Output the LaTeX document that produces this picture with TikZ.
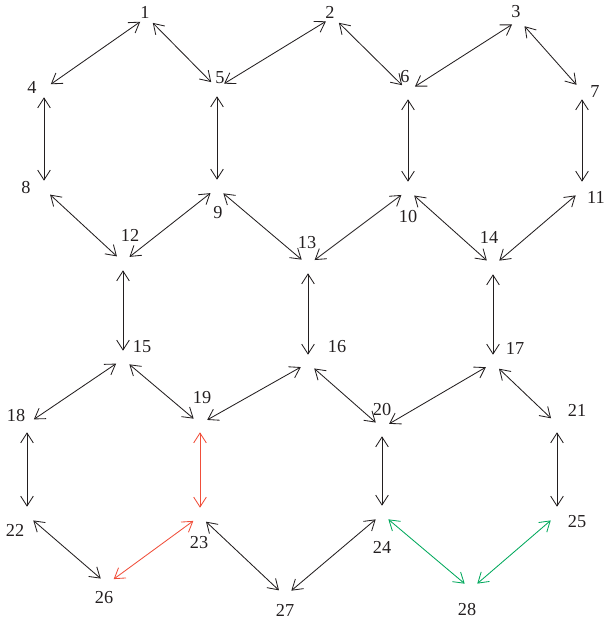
\documentclass[tikz,border=0pt]{standalone}
\usepackage{fontspec}
\setmainfont{Liberation Serif}
\usetikzlibrary{arrows.meta}

\definecolor{inkgray}{RGB}{35,31,32}
\definecolor{pathred}{RGB}{240,78,58}
\definecolor{pathgreen}{RGB}{0,168,92}

\begin{document}
\begin{tikzpicture}[
  x=0.025cm, y=-0.025cm,
  font=\fontsize{13}{15}\selectfont,
  vtx/.style={circle, inner sep=0pt, minimum size=0.4cm},
  num/.style={inner sep=0pt, text=inkgray},
  link/.style={{Straight Barb[length=7pt,width=9pt]}-{Straight Barb[length=7pt,width=9pt]},
               line width=0.6pt, draw=inkgray},
  redlink/.style={link, draw=pathred},
  greenlink/.style={link, draw=pathgreen},
]
  \useasboundingbox (0,0) rectangle (606,625);

  %% Vertices and their numbers
  \node[vtx] (v1)  at (147,17)  {}; \node[num] (n1)  at (145,12)  {1};
  \node[vtx] (v2)  at (333,17)  {}; \node[num] (n2)  at (330,12)  {2};
  \node[vtx] (v3)  at (519,20)  {}; \node[num] (n3)  at (516,12)  {3};
  \node[vtx] (v4)  at (44,89)   {}; \node[num] (n4)  at (32,87)   {4};
  \node[vtx] (v5)  at (217,88)  {}; \node[num] (n5)  at (220,78)  {5};
  \node[vtx] (v6)  at (408,91)  {}; \node[num] (n6)  at (405,77)  {6};
  \node[vtx] (v7)  at (582,91)  {}; \node[num] (n7)  at (595,92)  {7};
  \node[vtx] (v8)  at (44,189)  {}; \node[num] (n8)  at (26,188)  {8};
  \node[vtx] (v9)  at (217,188) {}; \node[num] (n9)  at (218,213) {9};
  \node[vtx] (v10) at (408,190) {}; \node[num] (n10) at (408,217) {10};
  \node[vtx] (v11) at (582,190) {}; \node[num] (n11) at (596,197) {11};
  \node[vtx] (v12) at (123,262) {}; \node[num] (n12) at (130,235) {12};
  \node[vtx] (v13) at (308,265) {}; \node[num] (n13) at (307,243) {13};
  \node[vtx] (v14) at (493,266) {}; \node[num] (n14) at (489,237) {14};
  \node[vtx] (v15) at (123,359) {}; \node[num] (n15) at (142,347) {15};
  \node[vtx] (v16) at (308,363) {}; \node[num] (n16) at (337,347) {16};
  \node[vtx] (v17) at (493,363) {}; \node[num] (n17) at (515,348) {17};
  \node[vtx] (v18) at (27,424)  {}; \node[num] (n18) at (16,416)  {18};
  \node[vtx] (v19) at (200,424) {}; \node[num] (n19) at (202,398) {19};
  \node[vtx] (v20) at (382,428) {}; \node[num] (n20) at (382,410) {20};
  \node[vtx] (v21) at (557,424) {}; \node[num] (n21) at (577,410) {21};
  \node[vtx] (v22) at (27,515)  {}; \node[num] (n22) at (15,530)  {22};
  \node[vtx] (v23) at (200,516) {}; \node[num] (n23) at (199,543) {23};
  \node[vtx] (v24) at (382,514) {}; \node[num] (n24) at (382,547) {24};
  \node[vtx] (v25) at (557,515) {}; \node[num] (n25) at (577,522) {25};
  \node[vtx] (v26) at (107,584) {}; \node[num] (n26) at (104,598) {26};
  \node[vtx] (v27) at (285,596) {}; \node[num] (n27) at (285,610) {27};
  \node[vtx] (v28) at (471,589) {}; \node[num] (n28) at (467,610) {28};

  %% Links of the lattice
  \draw[link] (v1) -- (v4);   \draw[link] (v1) -- (v5);
  \draw[link] (v2) -- (v5);   \draw[link] (v2) -- (v6);
  \draw[link] (v3) -- (v6);   \draw[link] (v3) -- (v7);
  \draw[link] (v4) -- (v8);   \draw[link] (v5) -- (v9);
  \draw[link] (v6) -- (v10);  \draw[link] (v7) -- (v11);
  \draw[link] (v8) -- (v12);  \draw[link] (v9) -- (v12);
  \draw[link] (v9) -- (v13);  \draw[link] (v10) -- (v13);
  \draw[link] (v10) -- (v14); \draw[link] (v11) -- (v14);
  \draw[link] (v12) -- (v15); \draw[link] (v13) -- (v16);
  \draw[link] (v14) -- (v17);
  \draw[link] (v15) -- (v18); \draw[link] (v15) -- (v19);
  \draw[link] (v16) -- (v19); \draw[link] (v16) -- (v20);
  \draw[link] (v17) -- (v20); \draw[link] (v17) -- (v21);
  \draw[link] (v18) -- (v22); \draw[link] (v20) -- (v24);
  \draw[link] (v21) -- (v25);
  \draw[link] (v22) -- (v26); \draw[link] (v23) -- (v27);
  \draw[link] (v24) -- (v27);

  %% Highlighted links
  \draw[redlink] (v19) -- (v23);
  \draw[redlink] (v23) -- (v26);
  \draw[greenlink] (v24) -- (v28);
  \draw[greenlink] (v25) -- (v28);
\end{tikzpicture}
\end{document}
